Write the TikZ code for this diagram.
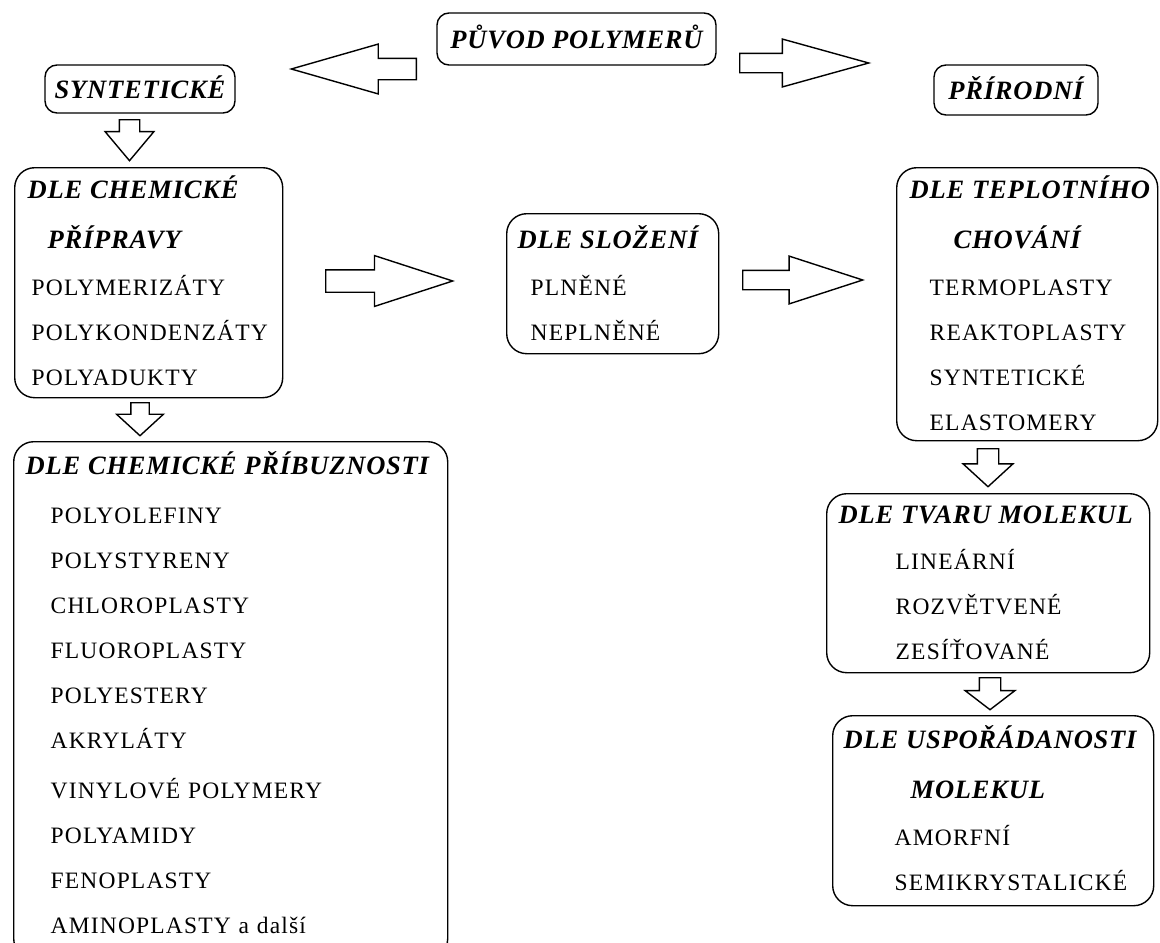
\documentclass[tikz,border=0pt]{standalone}
\usepackage{fontspec}
\setmainfont{Liberation Serif}[LetterSpace=5]
\newfontfamily\headfamily{Liberation Serif}[LetterSpace=3]
\usetikzlibrary{shapes.arrows}

\newcommand{\hdfont}{\fontsize{13.25pt}{22.5pt}\selectfont\headfamily\bfseries\itshape}

\begin{document}
\begin{tikzpicture}[
    x=0.5pt, y=-0.5pt,
    every node/.style={font=\fontsize{11.75pt}{22.5pt}\selectfont},
    tag/.style={draw, rounded corners=6pt, line width=0.7pt, inner sep=0pt, text height=9pt, text depth=0pt, font=\hdfont},
    group/.style={draw, rounded corners=10pt, line width=0.7pt, anchor=north west, inner ysep=0pt, align=left},
    harrow/.style={draw, single arrow, line width=0.7pt, inner xsep=0pt, inner ysep=4.75pt, anchor=tail, minimum width=19pt, single arrow tip angle=34},
    varrow/.style={harrow, rotate=-90, minimum width=18.5pt, single arrow tip angle=95}
]
\useasboundingbox (0,0) rectangle (1160,942);
\clip (0,0) rectangle (1160,942);

\node (puvod) [tag, minimum width=139.5pt, minimum height=26pt] at (576.5,39) {PŮVOD POLYMERŮ};
\node (synt) [tag, minimum width=95pt, minimum height=24pt] at (140,89) {SYNTETICKÉ};
\node (prir) [tag, minimum width=82pt, minimum height=25pt] at (1016,90) {PŘÍRODNÍ};

\node (prip) [group, text width=121pt, inner xsep=6.5pt, text height=15.5pt, text depth=99.5pt] at (14,167)
  {{\hdfont DLE CHEMICKÉ}\\[2.5pt]
   \hspace*{10pt}{\hdfont PŘÍPRAVY}\\[1pt]
   \hspace*{2pt}POLYMERIZÁTY\\
   \hspace*{2pt}POLYKONDENZÁTY\\
   \hspace*{2pt}POLYADUKTY};
\node (slozeni) [group, text width=95pt, inner xsep=5.5pt, text height=17.5pt, text depth=52.5pt] at (506,213)
  {{\hdfont DLE SLOŽENÍ}\\[1pt]
   \hspace*{6.5pt}PLNĚNÉ\\
   \hspace*{6.5pt}NEPLNĚNÉ};
\node (tepl) [group, text width=117.5pt, inner xsep=6.5pt, text height=15.5pt, text depth=121pt] at (896,167)
  {\mbox{\hdfont DLE TEPLOTNÍHO}\\[2.5pt]
   \hspace*{22pt}{\hdfont CHOVÁNÍ}\\[1pt]
   \hspace*{10pt}TERMOPLASTY\\
   \hspace*{10pt}REAKTOPLASTY\\
   \hspace*{10pt}SYNTETICKÉ\\
   \hspace*{10pt}ELASTOMERY};
\node (tvaru) [group, text width=149.5pt, inner xsep=6pt, text height=15pt, text depth=74.5pt] at (826,493)
  {\mbox{\hdfont DLE TVARU MOLEKUL}\\[0.5pt]
   \hspace*{28.5pt}LINEÁRNÍ\\
   \hspace*{28.5pt}ROZVĚTVENÉ\\
   \hspace*{28.5pt}ZESÍŤOVANÉ};
\node (uspor) [group, text width=149.5pt, inner xsep=5.5pt, text height=16.5pt, text depth=78.5pt] at (832,715)
  {{\hdfont DLE USPOŘÁDANOSTI}\\[2.5pt]
   \hspace*{33.5pt}{\hdfont MOLEKUL}\\[1pt]
   \hspace*{25.5pt}AMORFNÍ\\
   \hspace*{25.5pt}SEMIKRYSTALICKÉ};
\node (pribuz) [group, text width=205pt, inner xsep=6pt, text height=16.5pt, text depth=242pt] at (13,441)
  {\mbox{\hdfont DLE CHEMICKÉ PŘÍBUZNOSTI}\\[2pt]
   \hspace*{12.5pt}POLYOLEFINY\\
   \hspace*{12.5pt}POLYSTYRENY\\
   \hspace*{12.5pt}CHLOROPLASTY\\
   \hspace*{12.5pt}FLUOROPLASTY\\
   \hspace*{12.5pt}POLYESTERY\\
   \hspace*{12.5pt}AKRYLÁTY\\[2.5pt]
   \hspace*{12.5pt}VINYLOVÉ POLYMERY\\
   \hspace*{12.5pt}POLYAMIDY\\
   \hspace*{12.5pt}FENOPLASTY\\
   \hspace*{12.5pt}AMINOPLASTY a další};

\node (to-synt) [harrow, rotate=180, minimum height=62.5pt, minimum width=18pt, inner ysep=5pt, single arrow tip angle=32] at (417,69) {};
\node (to-prir) [harrow, minimum height=64.5pt, minimum width=17.5pt, inner ysep=4.5pt, single arrow tip angle=31] at (739,63) {};
\node (to-slozeni) [harrow, minimum height=63.5pt, minimum width=21pt, inner ysep=5.25pt, single arrow tip angle=36] at (325,281) {};
\node (to-tepl) [harrow, minimum height=60pt, minimum width=20pt, inner ysep=4.5pt, single arrow tip angle=36] at (742,280) {};
\node (to-prip) [varrow, minimum height=20.5pt, minimum width=18pt, single arrow tip angle=80] at (129.5,119) {};
\node (to-pribuz) [varrow, minimum height=16.5pt, inner ysep=4.25pt] at (140,402) {};
\node (to-tvaru) [varrow, minimum height=19pt, inner ysep=5pt] at (988,448) {};
\node (to-uspor) [varrow, minimum height=16pt, inner ysep=5pt, single arrow tip angle=105] at (990,677) {};

\end{tikzpicture}
\end{document}
